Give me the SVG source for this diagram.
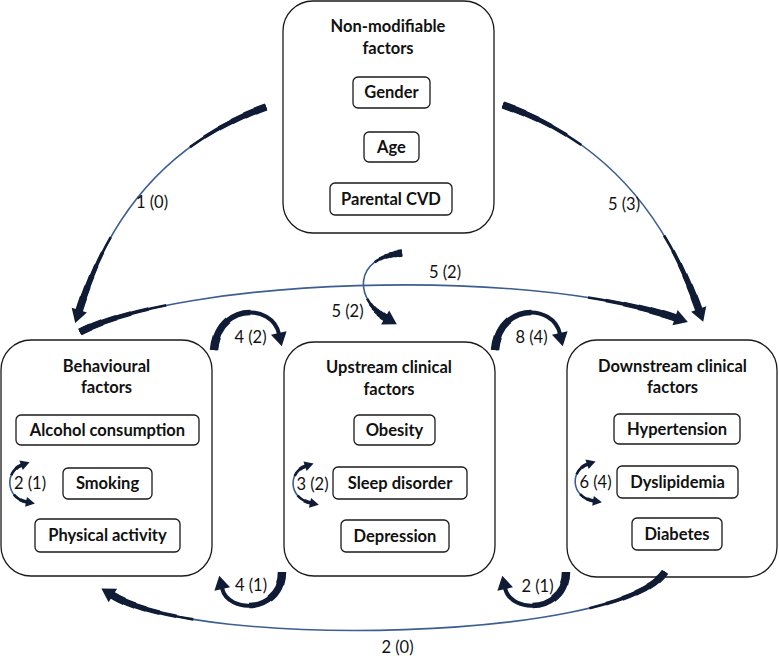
<svg xmlns="http://www.w3.org/2000/svg" width="779" height="660" viewBox="0 0 779 660">
<style>
.outer{fill:#fff;stroke:#1a1a1a;stroke-width:1.3}
.inner{fill:#fff;stroke:#1a1a1a;stroke-width:1.3}
.t{font-family:Lato,"Liberation Sans",sans-serif;font-weight:bold;font-size:16.5px;fill:#111;text-anchor:middle}
.lb{font-family:Lato,"Liberation Sans",sans-serif;font-size:16.5px;fill:#111;text-anchor:middle}
.c{fill:none;stroke-linecap:butt;stroke-linejoin:round}
.thin{stroke:#3c5e90}
.dk{stroke:#101b36}
.L1{stroke-width:1.6}
.L2{stroke-width:2.6;stroke-dasharray:30 42 28 100}
.L3{stroke-width:3.6;stroke-dasharray:24 54 22 100}
.L4{stroke-width:4.6;stroke-dasharray:18 65 17 100}
.L5{stroke-width:5.6;stroke-dasharray:13 74 13 100}
.L6{stroke-width:6.6;stroke-dasharray:8 83 9 100}
.L7{stroke-width:7.6;stroke-dasharray:4 91 5 100}
.X2{stroke-width:2.6;stroke-dasharray:15 70 15 100}
.X3{stroke-width:3.6;stroke-dasharray:12 76 12 100}
.X4{stroke-width:4.6;stroke-dasharray:9 82 9 100}
.X5{stroke-width:5.6;stroke-dasharray:6.5 87 6.5 100}
.X6{stroke-width:6.6;stroke-dasharray:4 91.5 4.5 100}
.X7{stroke-width:7.6;stroke-dasharray:2 95.5 2.5 100}
.S1{stroke-width:4}
.S2{stroke-width:5.5;stroke-dasharray:60 100}
.S3{stroke-width:7;stroke-dasharray:35 100}
.S4{stroke-width:8.5;stroke-dasharray:14 100}
.T1{stroke-width:1.6}
.T2{stroke-width:2.6;stroke-dasharray:30 40 30 100}
.T3{stroke-width:3.6;stroke-dasharray:14 72 14 100}
.he{marker-end:url(#hb)}
.hs{marker-start:url(#hs);marker-end:url(#hs)}
</style>
<defs>
<marker id="hb" markerUnits="userSpaceOnUse" markerWidth="24" markerHeight="24" refX="0" refY="0" orient="auto" style="overflow:visible">
<path d="M-1,-8 L12.5,0 L-1,8 z" fill="#101b36"/>
</marker>
<marker id="hs" markerUnits="userSpaceOnUse" markerWidth="16" markerHeight="16" refX="0" refY="0" orient="auto-start-reverse" style="overflow:visible">
<path d="M-1,-5 L8,0 L-1,5 z" fill="#101b36"/>
</marker>
<path id="p1" pathLength="100" d="M266,107 Q127.5,157 79,311"/>
<path id="p2" pathLength="100" d="M503,105 Q643,153 699,310"/>
<path id="p3" pathLength="100" d="M80,332 C180,280 520,265 676,318"/>
<path id="p4" pathLength="100" d="M402,253 C352,258 355,300 386,318"/>
<path id="p5" pathLength="100" d="M214,350 C218,303 272,303 279,334"/>
<path id="p6" pathLength="100" d="M495,350 C499,303 553,303 560,334"/>
<path id="p7" pathLength="100" d="M282,572 C282,612 228,615 222,588"/>
<path id="p8" pathLength="100" d="M566,572 C566,612 511,615 505,588"/>
<path id="p9" pathLength="100" d="M665,572 C620,640 200,650 112,595"/>
<path id="p10" pathLength="100" d="M22,465 C5,471 5,498 27,502"/>
<path id="p11" pathLength="100" d="M306,466 C288,472 288,498 311,503"/>
<path id="p12" pathLength="100" d="M588,464 C570,470 570,497 594,501"/>
</defs>

<g id="node-nonmod">
<rect class="outer" x="283" y="1" width="211" height="232" rx="30"/>
<text class="t" x="388" y="32">Non-modifiable</text>
<text class="t" x="388" y="54">factors</text>
<rect class="inner" x="353" y="77" width="77" height="31" rx="5"/>
<text class="t" x="391.5" y="98">Gender</text>
<rect class="inner" x="364" y="132" width="55" height="30" rx="5"/>
<text class="t" x="391.5" y="152.5">Age</text>
<rect class="inner" x="330" y="183" width="122" height="32" rx="5"/>
<text class="t" x="391" y="205">Parental CVD</text>
</g>

<g id="node-behav">
<rect class="outer" x="1" y="340" width="211" height="236" rx="30"/>
<text class="t" x="106.5" y="372">Behavioural</text>
<text class="t" x="106.5" y="393">factors</text>
<rect class="inner" x="16" y="415" width="183" height="30" rx="5"/>
<text class="t" x="107.5" y="436">Alcohol consumption</text>
<rect class="inner" x="63" y="468" width="89" height="31" rx="5"/>
<text class="t" x="107.5" y="489">Smoking</text>
<rect class="inner" x="35" y="519" width="145" height="33" rx="5"/>
<text class="t" x="107.5" y="541">Physical activity</text>
</g>

<g id="node-upstream">
<rect class="outer" x="284" y="342" width="211" height="234" rx="30"/>
<text class="t" x="389" y="373">Upstream clinical</text>
<text class="t" x="389" y="395">factors</text>
<rect class="inner" x="354" y="415" width="81" height="30" rx="5"/>
<text class="t" x="394.5" y="436">Obesity</text>
<rect class="inner" x="333" y="467" width="134" height="32" rx="5"/>
<text class="t" x="400" y="489">Sleep disorder</text>
<rect class="inner" x="341" y="520" width="108" height="32" rx="5"/>
<text class="t" x="395" y="542">Depression</text>
</g>

<g id="node-downstream">
<rect class="outer" x="567" y="340" width="210" height="237" rx="30"/>
<text class="t" x="672.5" y="372">Downstream clinical</text>
<text class="t" x="672.5" y="393">factors</text>
<rect class="inner" x="614" y="414" width="126" height="30" rx="5"/>
<text class="t" x="677" y="435">Hypertension</text>
<rect class="inner" x="617" y="466" width="121" height="32" rx="5"/>
<text class="t" x="677.5" y="488">Dyslipidemia</text>
<rect class="inner" x="632" y="518" width="90" height="32" rx="5"/>
<text class="t" x="677" y="540">Diabetes</text>
</g>

<g id="connectors">
<g id="e-nonmod-behav">
<use href="#p1" class="c thin L1 he"/><use href="#p1" class="c dk L2"/><use href="#p1" class="c dk L3"/><use href="#p1" class="c dk L4"/><use href="#p1" class="c dk L5"/><use href="#p1" class="c dk L6"/><use href="#p1" class="c dk L7"/>
<text class="lb" x="152" y="208">1 (0)</text>
</g>
<g id="e-nonmod-down">
<use href="#p2" class="c thin L1 he"/><use href="#p2" class="c dk L2"/><use href="#p2" class="c dk L3"/><use href="#p2" class="c dk L4"/><use href="#p2" class="c dk L5"/><use href="#p2" class="c dk L6"/><use href="#p2" class="c dk L7"/>
<text class="lb" x="624" y="210">5 (3)</text>
</g>
<g id="e-behav-down">
<use href="#p3" class="c thin L1 he"/><use href="#p3" class="c dk X2"/><use href="#p3" class="c dk X3"/><use href="#p3" class="c dk X4"/><use href="#p3" class="c dk X5"/><use href="#p3" class="c dk X6"/><use href="#p3" class="c dk X7"/>
<text class="lb" x="445" y="278">5 (2)</text>
</g>
<g id="e-nonmod-up">
<use href="#p4" class="c thin L1 he"/><use href="#p4" class="c dk L2"/><use href="#p4" class="c dk L3"/><use href="#p4" class="c dk L4"/><use href="#p4" class="c dk L5"/><use href="#p4" class="c dk L6"/><use href="#p4" class="c dk L7"/>
<text class="lb" x="347.5" y="317">5 (2)</text>
</g>
<g id="e-behav-up">
<use href="#p5" class="c dk S1 he"/><use href="#p5" class="c dk S2"/><use href="#p5" class="c dk S3"/><use href="#p5" class="c dk S4"/>
<text class="lb" x="250.5" y="343">4 (2)</text>
</g>
<g id="e-up-down">
<use href="#p6" class="c dk S1 he"/><use href="#p6" class="c dk S2"/><use href="#p6" class="c dk S3"/><use href="#p6" class="c dk S4"/>
<text class="lb" x="531.5" y="343">8 (4)</text>
</g>
<g id="e-up-behav">
<use href="#p7" class="c dk S1 he"/><use href="#p7" class="c dk S2"/><use href="#p7" class="c dk S3"/><use href="#p7" class="c dk S4"/>
<text class="lb" x="251" y="591">4 (1)</text>
</g>
<g id="e-down-up">
<use href="#p8" class="c dk S1 he"/><use href="#p8" class="c dk S2"/><use href="#p8" class="c dk S3"/><use href="#p8" class="c dk S4"/>
<text class="lb" x="537.5" y="592">2 (1)</text>
</g>
<g id="e-down-behav">
<use href="#p9" class="c thin L1 he"/><use href="#p9" class="c dk X2"/><use href="#p9" class="c dk X3"/><use href="#p9" class="c dk X4"/><use href="#p9" class="c dk X5"/><use href="#p9" class="c dk X6"/><use href="#p9" class="c dk X7"/>
<text class="lb" x="397.5" y="653">2 (0)</text>
</g>
<g id="e-behav-self">
<use href="#p10" class="c thin T1 hs"/><use href="#p10" class="c dk T2"/><use href="#p10" class="c dk T3"/>
<text class="lb" x="30" y="489">2 (1)</text>
</g>
<g id="e-up-self">
<use href="#p11" class="c thin T1 hs"/><use href="#p11" class="c dk T2"/><use href="#p11" class="c dk T3"/>
<text class="lb" x="312.5" y="490">3 (2)</text>
</g>
<g id="e-down-self">
<use href="#p12" class="c thin T1 hs"/><use href="#p12" class="c dk T2"/><use href="#p12" class="c dk T3"/>
<text class="lb" x="595.5" y="488">6 (4)</text>
</g>
</g>
</svg>
